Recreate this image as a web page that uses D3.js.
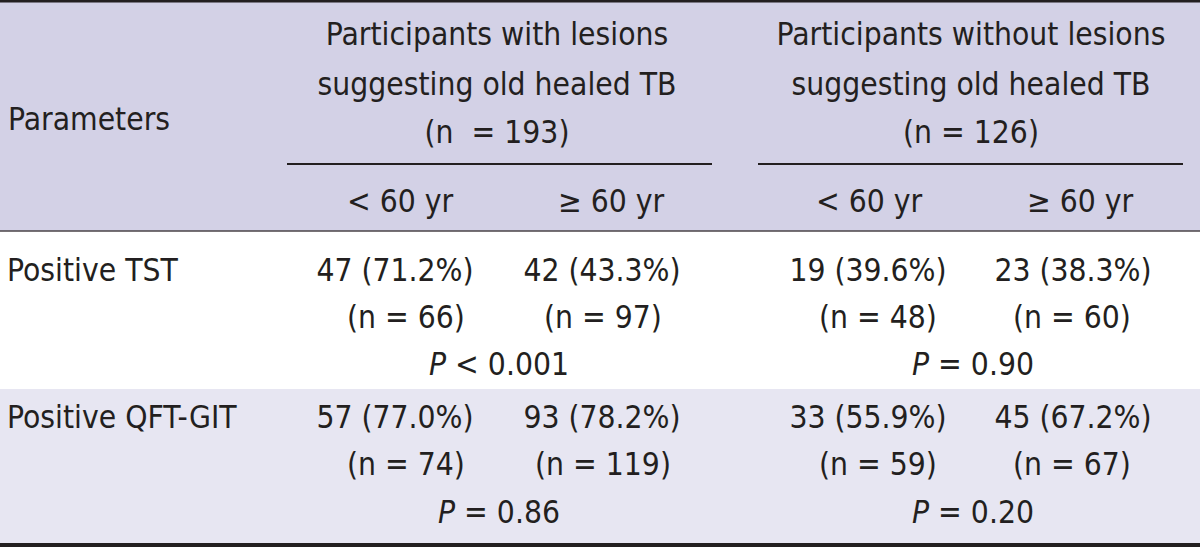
<!DOCTYPE html>
<html>
<head>
<meta charset="utf-8">
<script src="https://cdn.jsdelivr.net/npm/d3@7"></script>
<style>
  html, body { margin: 0; padding: 0; background: #ffffff; }
  svg { display: block; }
  text { font-family: "DejaVu Sans Condensed", "Liberation Sans", sans-serif; fill: #231f20; white-space: pre; }
</style>
</head>
<body>
<svg id="chart" width="1200" height="547"></svg>
<script>
// ---- data ----
const stubHeader = "Parameters";
const groupHeaders = [
  ["Participants with lesions", "suggesting old healed TB", "(n  = 193)"],
  ["Participants without lesions", "suggesting old healed TB", "(n = 126)"]
];
const ageLabels = ["< 60 yr", "\u2265 60 yr", "< 60 yr", "\u2265 60 yr"];
const parameters = ["Positive TST", "Positive QFT-GIT"];
const positives = [[47, 42, 19, 23], [57, 93, 33, 45]];
const percents = [["71.2", "43.3", "39.6", "38.3"], ["77.0", "78.2", "55.9", "67.2"]];
const totals = [[66, 97, 48, 60], [74, 119, 59, 67]];
const pOperators = [["<", "="], ["=", "="]];
const pValues = [["0.001", "0.90"], ["0.86", "0.20"]];

// ---- layout ----
const W = 1200, H = 547;
const svg = d3.select("#chart");
const fs = 31.5;
const ls = 0;

const colKeys = [0, 1, 2, 3];
const groupKeys = [0, 1];
const xAge = d3.scaleOrdinal().domain(colKeys).range([400, 611, 869, 1080]);
const xVal = d3.scaleOrdinal().domain(colKeys).range([395, 602, 868, 1073]);
const xN = d3.scaleOrdinal().domain(colKeys).range([406, 603, 878, 1072]);
const xGroup = d3.scaleOrdinal().domain(groupKeys).range([497, 971]);
const lineSpan = d3.scaleOrdinal().domain(groupKeys).range([[287, 712], [758, 1183]]);
const headerLineY = [45, 95, 143];
const rowBaselines = [[281, 328, 375], [428, 475, 523]];

// backgrounds
svg.append("rect").attr("x", 0).attr("y", 0).attr("width", W).attr("height", 231).attr("fill", "#d3d1e6");
svg.append("rect").attr("x", 0).attr("y", 232).attr("width", W).attr("height", 157).attr("fill", "#ffffff");
svg.append("rect").attr("x", 0).attr("y", 389).attr("width", W).attr("height", 154).attr("fill", "#e7e6f2");

// rules
svg.append("rect").attr("x", 0).attr("y", 0).attr("width", W).attr("height", 2.5).attr("fill", "#231f20");
svg.append("line").attr("x1", 0).attr("x2", W).attr("y1", 231).attr("y2", 231)
  .attr("stroke", "#4a4347").attr("stroke-width", 1.5);
svg.append("rect").attr("x", 0).attr("y", 543).attr("width", W).attr("height", 4).attr("fill", "#231f20");

function txt(x, y, s, anchor) {
  return svg.append("text").attr("x", x).attr("y", y)
    .attr("text-anchor", anchor || "start")
    .attr("font-size", fs).attr("letter-spacing", ls)
    .text(s);
}

// stub header
txt(8, 130, stubHeader);

// group headers
groupKeys.forEach(g => {
  groupHeaders[g].forEach((line, i) => txt(xGroup(g), headerLineY[i], line, "middle"));
  const span = lineSpan(g);
  svg.append("line").attr("x1", span[0]).attr("x2", span[1]).attr("y1", 164).attr("y2", 164)
    .attr("stroke", "#231f20").attr("stroke-width", 2);
});

// age sub-headers
svg.selectAll("text.age").data(colKeys).join("text").attr("class", "age")
  .attr("x", d => xAge(d)).attr("y", 212).attr("text-anchor", "middle")
  .attr("font-size", fs).attr("letter-spacing", ls)
  .text(d => ageLabels[d]);

// body rows
parameters.forEach((p, r) => {
  const b = rowBaselines[r];
  txt(7, b[0], p);
  colKeys.forEach(c => {
    txt(xVal(c), b[0], `${positives[r][c]} (${percents[r][c]}%)`, "middle");
    txt(xN(c), b[1], `(n = ${totals[r][c]})`, "middle");
  });
  groupKeys.forEach(g => {
    const t = svg.append("text").attr("x", xGroup(g) + 2).attr("y", b[2]).attr("text-anchor", "middle")
      .attr("font-size", fs).attr("letter-spacing", ls);
    t.append("tspan").attr("font-style", "italic").text("P");
    t.append("tspan").text(` ${pOperators[r][g]} ${pValues[r][g]}`);
  });
});
</script>
</body>
</html>
